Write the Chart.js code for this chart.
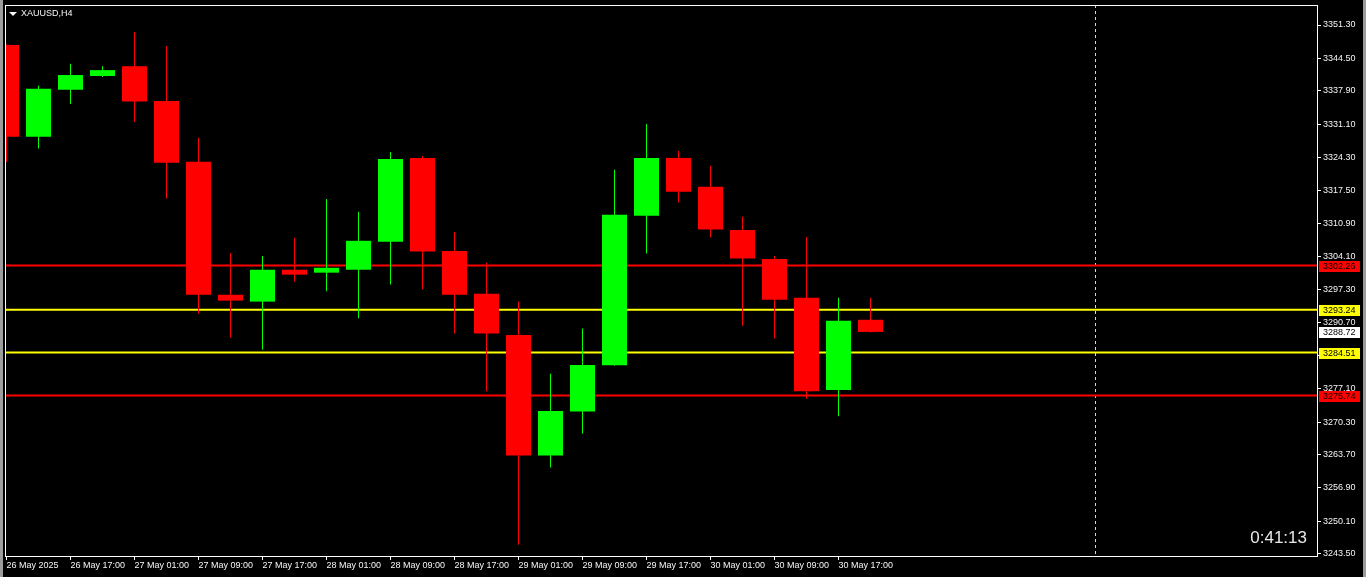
<!DOCTYPE html>
<html lang="en">
<head>
  <meta charset="UTF-8" />
  <title>XAUUSD,H4</title>
  <script src="https://cdn.jsdelivr.net/npm/chart.js"></script>
  <style>
    html, body { margin: 0; padding: 0; background: #000; overflow: hidden; }
    .wrap { position: relative; width: 1366px; height: 577px; }
    canvas { position: absolute; left: 0; top: 0; }
    .edge { position: absolute; top: 0; width: 3px; height: 577px; background: #9c9c9c; }
    .symbol {
      position: absolute; left: 21px; top: 8px;
      font: 9px 'Liberation Sans', sans-serif; line-height: 10px; color: #f6f6f6;
    }
    .symbol::before {
      content: ''; position: absolute; left: -12px; top: 4px;
      border-left: 4px solid transparent; border-right: 4px solid transparent;
      border-top: 4px solid #f6f6f6;
    }
    .timer {
      position: absolute; right: 59px; top: 529px;
      font: 17px 'Liberation Sans', sans-serif; line-height: 17px; color: #e8e8e8;
    }
  </style>
</head>
<body>
  <div class="wrap">
    <canvas id="chart" width="1366" height="577"></canvas>
    <div class="edge" style="left:0"></div>
    <div class="edge" style="left:1363px"></div>
    <div class="symbol">XAUUSD,H4</div>
    <div class="timer">0:41:13</div>
  </div>
  <script>
    // H4 bars, 26 May 09:00 .. 30 May 21:00
    const opens  = [3347.2, 3328.5, 3338.1, 3340.9, 3342.9, 3335.8, 3323.4, 3296.3, 3294.9, 3301.4, 3300.8, 3301.4, 3307.1, 3324.2,
                    3305.2, 3296.5, 3288.1, 3263.5, 3272.5, 3281.9, 3312.4, 3324.2, 3318.3, 3309.5, 3303.6, 3295.7, 3276.9, 3291.2];
    const highs  = [3347.4, 3338.9, 3343.4, 3342.9, 3349.9, 3347.0, 3328.3, 3304.8, 3304.2, 3307.9, 3315.8, 3313.2, 3325.4, 3324.6,
                    3309.1, 3302.8, 3294.9, 3280.2, 3289.4, 3321.8, 3331.1, 3325.6, 3322.6, 3312.2, 3304.2, 3308.1, 3295.7, 3295.7];
    const lows   = [3323.4, 3326.1, 3335.2, 3340.7, 3331.5, 3315.9, 3292.5, 3287.6, 3285.1, 3299.0, 3297.0, 3291.5, 3298.4, 3297.4,
                    3288.4, 3276.6, 3245.3, 3261.1, 3268.0, 3281.8, 3304.7, 3315.1, 3308.0, 3290.0, 3287.4, 3275.1, 3271.5, 3288.6];
    const closes = [3328.5, 3338.3, 3341.1, 3342.1, 3335.7, 3323.2, 3296.3, 3295.1, 3301.4, 3300.4, 3301.8, 3307.3, 3324.0, 3305.1,
                    3296.3, 3288.4, 3263.5, 3272.6, 3282.0, 3312.6, 3324.2, 3317.3, 3309.6, 3303.7, 3295.3, 3276.6, 3291.0, 3288.72];

    const xLabels = ['26 May 2025', '26 May 17:00', '27 May 01:00', '27 May 09:00', '27 May 17:00', '28 May 01:00', '28 May 09:00',
                     '28 May 17:00', '29 May 01:00', '29 May 09:00', '29 May 17:00', '30 May 01:00', '30 May 09:00', '30 May 17:00'];
    const yTicks = [3243.50, 3250.10, 3256.90, 3263.70, 3270.30, 3277.10, 3283.90, 3290.70, 3297.30, 3304.10,
                    3310.90, 3317.50, 3324.30, 3331.10, 3337.90, 3344.50, 3351.30];

    const levels = [3302.26, 3293.24, 3284.51, 3275.74];
    const levelColors = ['#ff0000', '#ffff00', '#ffff00', '#ff0000'];
    const bid = 3288.72;
    const periodSep = 34; // bar index of the dashed separator

    const UP = '#00ff00', DOWN = '#ff0000';
    const X_MIN = -0.046875, X_MAX = 40.953125;
    const Y_MIN = 3243.03, Y_MAX = 3355.38;

    const idx = opens.map((_, i) => i);
    const barColors = idx.map(i => closes[i] >= opens[i] ? UP : DOWN);

    Chart.defaults.font.family = "'Liberation Sans', sans-serif";
    Chart.defaults.font.size = 9;
    Chart.defaults.color = '#f6f6f6';

    const overlay = {
      id: 'overlay',
      beforeDatasetsDraw(chart) {
        const { ctx, chartArea: a, scales: { x } } = chart;
        const px = Math.round(x.getPixelForValue(periodSep)) + 0.5;
        ctx.save();
        ctx.strokeStyle = '#d8d8d8';
        ctx.lineWidth = 1;
        ctx.setLineDash([3, 3]);
        ctx.beginPath();
        ctx.moveTo(px, a.top);
        ctx.lineTo(px, a.bottom);
        ctx.stroke();
        ctx.restore();
      },
      afterDraw(chart) {
        const { ctx, chartArea: a, scales: { y } } = chart;
        ctx.save();
        ctx.strokeStyle = '#ffffff';
        ctx.lineWidth = 1;
        ctx.strokeRect(a.left + 0.5, a.top + 0.5, a.right - a.left, a.bottom - a.top);

        const tags = levels.map((v, i) => ({ v, c: levelColors[i] }));
        tags.push({ v: bid, c: '#ffffff' });
        ctx.font = "9px 'Liberation Sans', sans-serif";
        ctx.textBaseline = 'middle';
        ctx.textAlign = 'left';
        tags.forEach(t => {
          const py = Math.round(y.getPixelForValue(t.v));
          ctx.fillStyle = t.c;
          ctx.fillRect(a.right + 2, py - 5, 41, 11);
          ctx.fillStyle = '#000';
          ctx.fillText(t.v.toFixed(2), a.right + 6, py + 0.5);
        });
        ctx.restore();
      }
    };

    new Chart(document.getElementById('chart'), {
      type: 'bar',
      data: {
        datasets: [
          {
            label: 'body',
            data: idx.map(i => ({ x: i, y: [opens[i], closes[i]] })),
            backgroundColor: barColors,
            barThickness: 25,
            minBarLength: 1,
            grouped: false,
            inflateAmount: 0,
            borderWidth: 0,
            clip: 0,
            order: 0
          },
          {
            label: 'wick',
            data: idx.map(i => ({ x: i, y: [lows[i], highs[i]] })),
            backgroundColor: barColors,
            barThickness: 1,
            grouped: false,
            inflateAmount: 0,
            borderWidth: 0,
            clip: 0,
            order: 1
          },
          ...levels.map((v, i) => ({
            type: 'line',
            label: 'level ' + v,
            data: [{ x: X_MIN, y: v }, { x: X_MAX, y: v }],
            borderColor: levelColors[i],
            borderWidth: 2,
            pointRadius: 0,
            clip: 0,
            order: 2
          }))
        ]
      },
      options: {
        responsive: false,
        animation: false,
        events: [],
        layout: { padding: { left: 5, top: 5, right: 0, bottom: 0 } },
        plugins: { legend: { display: false }, tooltip: { enabled: false } },
        scales: {
          x: {
            type: 'linear',
            offset: false,
            min: X_MIN,
            max: X_MAX,
            afterFit(s) { s.height = 21; s.paddingLeft = 0; s.paddingRight = 0; },
            afterBuildTicks(s) { s.ticks = xLabels.map((_, k) => ({ value: k * 2 })); },
            border: { display: false },
            grid: { offset: false, drawOnChartArea: false, drawTicks: true, tickLength: 4, color: '#ffffff' },
            ticks: {
              autoSkip: false, maxRotation: 0, align: 'start', padding: 0,
              callback: (v, k) => xLabels[k]
            }
          },
          y: {
            position: 'right',
            min: Y_MIN,
            max: Y_MAX,
            afterFit(s) { s.width = 49; s.paddingTop = 0; s.paddingBottom = 0; },
            afterBuildTicks(s) { s.ticks = yTicks.map(v => ({ value: v })); },
            border: { display: false },
            grid: { drawOnChartArea: false, drawTicks: true, tickLength: 4, color: '#ffffff' },
            ticks: {
              autoSkip: false, padding: 2,
              callback: v => v.toFixed(2)
            }
          }
        }
      },
      plugins: [overlay]
    });
  </script>
</body>
</html>
